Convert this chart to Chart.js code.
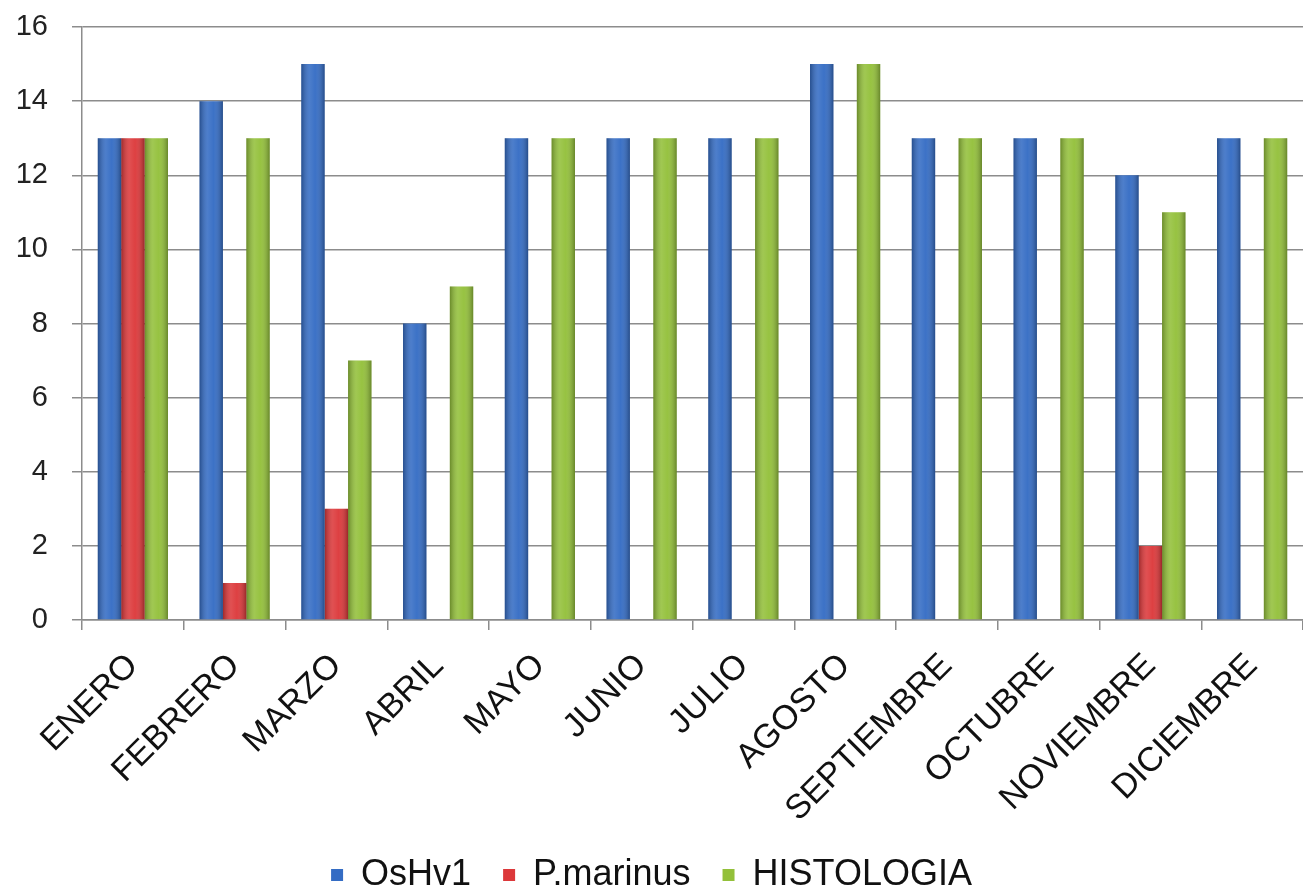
<!DOCTYPE html>
<html>
<head>
<meta charset="utf-8">
<script src="https://cdn.jsdelivr.net/npm/chart.js@4/dist/chart.umd.min.js"></script>
<style>
  html, body { margin: 0; padding: 0; background: #fff; }
  #wrap { width: 1303px; height: 892px; }
</style>
</head>
<body>
<div id="wrap"><canvas id="myChartBar"></canvas></div>
<script>
const months = ['ENERO', 'FEBRERO', 'MARZO', 'ABRIL', 'MAYO', 'JUNIO', 'JULIO', 'AGOSTO', 'SEPTIEMBRE', 'OCTUBRE', 'NOVIEMBRE', 'DICIEMBRE']
const oshv1 = [13, 14, 15, 8, 13, 13, 13, 15, 13, 13, 12, 13]
const pMarinus = [13, 1, 3, 0, 0, 0, 0, 0, 0, 0, 2, 0]
const histologia = [13, 13, 7, 9, 13, 13, 13, 15, 13, 13, 11, 13]
const yTicks = [0, 2, 4, 6, 8, 10, 12, 14, 16]

// soft cylinder shading over each bar
const shade = {
    id: 'shade',
    afterDatasetsDraw(chart) {
        const c = chart.ctx
        chart.data.datasets.forEach((ds, i) => {
            chart.getDatasetMeta(i).data.forEach(bar => {
                const w = bar.width
                if (!w || bar.base - bar.y < 1) return
                const x0 = bar.x - w / 2
                const g = c.createLinearGradient(x0, 0, x0 + w, 0)
                g.addColorStop(0, 'rgba(0,0,0,0.28)')
                g.addColorStop(0.35, 'rgba(255,255,255,0.12)')
                g.addColorStop(0.6, 'rgba(255,255,255,0.04)')
                g.addColorStop(1, 'rgba(0,0,0,0.3)')
                c.save()
                c.fillStyle = g
                c.fillRect(x0, bar.y, w, bar.base - bar.y)
                c.restore()
            })
        })
    }
}

const ctxB = document.getElementById('myChartBar').getContext('2d')
const dataBar = {
    labels: months,
    datasets: [
        { label: 'OsHv1', data: oshv1, backgroundColor: '#346cc4' },
        { label: 'P.marinus', data: pMarinus, backgroundColor: '#dc383a' },
        { label: 'HISTOLOGIA', data: histologia, backgroundColor: '#93c03a' }
    ]
}
const configB = {
    type: 'bar',
    data: dataBar,
    plugins: [shade],
    options: {
        responsive: true,
        maintainAspectRatio: false,
        animation: false,
        layout: { padding: { top: 27, right: 0, left: 0, bottom: -11 } },
        datasets: { bar: { categoryPercentage: 0.69, barPercentage: 1 } },
        plugins: {
            tooltip: { enabled: false },
            legend: {
                position: 'bottom',
                labels: {
                    boxWidth: 12, boxHeight: 12, padding: 2,
                    color: '#111',
                    font: { family: 'Liberation Sans', size: 36, lineHeight: 1 },
                    generateLabels: chart => {
                        const items = Chart.defaults.plugins.legend.labels.generateLabels(chart)
                        items.forEach((it, i) => { if (i < items.length - 1) it.text = it.text + '   ' })
                        return items
                    }
                }
            }
        },
        scales: {
            y: {
                min: 0, max: 16,
                afterBuildTicks: axis => { axis.ticks = yTicks.map(v => ({ value: v })) },
                afterFit: axis => { axis.width = 82; axis.paddingTop = 0; axis.paddingBottom = 0 },
                ticks: { color: '#222', padding: 24, font: { family: 'Liberation Sans', size: 29 } },
                grid: { color: '#8c8c8c', lineWidth: 1.5, tickLength: 10 },
                border: { color: '#8c8c8c', width: 1.5 }
            },
            x: {
                afterFit: axis => { axis.height = 235 },
                ticks: {
                    color: '#111', minRotation: 45, maxRotation: 45, padding: 16,
                    font: { family: 'Liberation Sans', size: 34 }
                },
                grid: { offset: true, drawOnChartArea: false, drawTicks: true, tickLength: 10, color: '#8c8c8c', lineWidth: 1.5 },
                border: { color: '#8c8c8c', width: 1.5 }
            }
        }
    }
}
const myChartB = new Chart(ctxB, configB)
</script>
</body>
</html>
